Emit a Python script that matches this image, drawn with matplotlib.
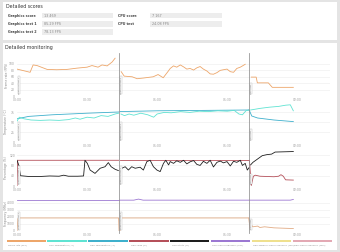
import matplotlib
matplotlib.use("Agg")
import matplotlib.pyplot as plt
import matplotlib.transforms as mtransforms
from matplotlib.patches import Rectangle
from matplotlib.lines import Line2D

# ===============================
# DATA
# ===============================

score_labels = ["Graphics score", "Graphics test 1", "Graphics test 2"]
score_values = ["13 469", "85.29 FPS", "78.13 FPS"]
cpu_labels = ["CPU score", "CPU test"]
cpu_values = ["7 167", "24.08 FPS"]

sections = ["Graphics test 1", "Graphics test 2", "CPU test"]
section_start = [0, 43.7, 99.4]

time_ticks = [0, 30, 60, 90, 120]
time_labels = ["00:00", "00:30", "01:00", "01:30", "02:00"]

# frame rate, one list per section
fps_t = [[0, 3.4, 5.6, 6.9, 8.6, 12.9, 17, 21.4, 25.7, 30, 32.1, 34.7, 36.4, 38.6, 40.7, 42],
         [44.6, 45.9, 49.3, 51.4, 54, 58.3, 60.4, 62.6, 64.7, 65.6, 67.0, 68.4, 69.9, 71.3, 72.7,
          74.1, 75.6, 77.0, 78.4, 79.8, 81.3, 82.7, 84.1, 85.6, 87.0, 88.4, 89.9, 91.3, 92.7,
          94.1, 95.6, 97.7],
         [100.3, 102.4, 102.9, 107.6, 109.3, 118.3]]
fps_v = [[84, 78, 74, 97, 95, 83, 82, 83, 87, 90, 95, 90, 97, 94, 106, 118],
         [76, 62, 60, 54, 56, 60, 67, 57, 77, 86, 94, 90, 97, 91, 84, 86, 81, 88, 92, 84, 78,
          69, 68, 73, 80, 82, 84, 76, 74, 86, 90, 99],
         [59, 59, 41, 41, 27, 27]]

# temperatures
cpu_temp_t = [[0, 1, 3, 6, 10, 14, 18, 22, 25, 27, 30, 33, 36, 39, 42, 43.5],
              [44.5, 46, 48, 50, 53, 56, 58.5, 60, 63, 66, 70, 74, 78, 82, 86, 90, 93, 95,
               96.5, 98, 99.2],
              [100, 104, 108, 112, 115, 117, 118.3]]
cpu_temp_v = [[52, 62, 58, 55, 54, 55, 54, 56, 60, 57, 62, 60, 66, 64, 70, 72],
              [70, 66, 70, 67, 72, 68, 62, 70, 74, 73, 76, 74, 77, 76, 78, 77, 79, 70, 68, 78, 80],
              [80, 84, 87, 89, 92, 93, 78]]
gpu_temp_t = [[0, 5, 15, 30, 43.5],
              [44, 60, 80, 99.2],
              [99.4, 100.5, 103, 110, 118.3]]
gpu_temp_v = [[58, 64, 68, 72, 75],
              [76, 78, 79, 80],
              [80, 65, 60, 55, 51]]

# loads
gpu_load_t = [[0, 0.3, 43.5], [44, 99.2], [99.5, 100.3, 101.2, 102, 104, 110, 112, 113, 114, 115, 118.3]]
gpu_load_v = [[0, 100, 100], [100, 100], [100, 2, 38, 42, 38, 36, 38, 44, 38, 24, 23]]
cpu_load_t = [[0, 0.8, 1.5, 5, 10, 14, 18, 20, 22, 26, 28.5, 29.1, 30.1, 31.3, 33.4, 35.6,
               37.7, 39.1, 40.3, 42, 43.4],
              [44.9, 46.3, 47.7, 49.1, 50.6, 52.7, 54.1, 55.6, 57, 58.4, 59.9, 61.3, 62.7, 63.7,
               64.9, 65.6, 67, 68.4, 69.9, 71.3, 72.7, 74.1, 75.6, 77, 78.4, 79.8, 81.3, 82.7,
               84.1, 85.6, 87, 88.4, 89.9, 91.3, 92.7, 94.1, 95.6, 96.5, 97.7, 98.6, 99.4],
              [100, 101, 103, 105, 107, 109, 110.5, 118.3]]
cpu_load_v = [[100, 80, 40, 37, 37, 39, 38, 42, 38, 38, 39, 100, 88, 62, 49, 69, 75, 91, 75, 65, 60],
              [69, 75, 62, 75, 69, 73, 62, 95, 100, 75, 62, 56, 88, 100, 82, 95, 88, 98, 92, 100,
               86, 94, 99, 84, 80, 96, 88, 100, 74, 92, 97, 90, 95, 78, 96, 92, 100, 80, 88, 62, 72],
              [82, 92, 105, 118, 122, 124, 132, 134]]

# clocks
cpu_clock_t = [[0, 43.5], [44, 50, 52, 54, 99.2], [99.5, 117, 118.3]]
cpu_clock_v = [[4400, 4400], [4400, 4400, 4550, 4400, 4400], [4400, 4400, 4500]]
gpu_clock_t = [[0, 0.4, 0.8, 43.5, 43.7], [44.1, 44.4, 99.0],
               [99.2, 99.8, 100.5, 101, 103, 104, 106, 110, 114, 118.3]]
gpu_clock_v = [[0, 1800, 1860, 1860, 0], [0, 1860, 1860],
               [1860, 200, 800, 600, 700, 500, 600, 450, 400, 350]]

legend_labels = ["Frame rate (FPS)", "CPU Temperature (°C)", "GPU Temperature (°C)", "GPU Load (%)",
                 "CPU Utility (%)", "CPU Clock Frequency (MHz)", "GPU Memory Clock Frequency (MHz)",
                 "GPU Clock Frequency (MHz)"]

# ===============================
# STYLE
# ===============================

c_fps = "#eda66a"
c_cpu_temp = "#5fe3d2"
c_gpu_temp = "#3fb0cc"
c_gpu_load = "#b5505a"
c_cpu_load = "#1e1e1e"
c_cpu_clock = "#9c78d2"
c_mem_clock = "#efe08e"
c_gpu_clock = "#e3a9b4"
c_gpu_clock_line = "#e2ab84"
legend_colors = [c_fps, c_cpu_temp, c_gpu_temp, c_gpu_load, c_cpu_load, c_cpu_clock, c_mem_clock, c_gpu_clock]

W, H = 340, 252


def fx(x):
    return x / W


def fy(y):
    return 1 - y / H


fig = plt.figure(figsize=(W / 100, H / 100), dpi=100, facecolor="#e4e4e4")

# white cards
fig.patches.append(Rectangle((fx(3), fy(40)), fx(334), 38 / H, transform=fig.transFigure,
                             facecolor="white", edgecolor="none", zorder=-10))
fig.patches.append(Rectangle((fx(3), fy(250)), fx(334), 207 / H, transform=fig.transFigure,
                             facecolor="white", edgecolor="none", zorder=-10))

fig.text(fx(6), fy(7), "Detailed scores", fontsize=3.4, color="#333", va="center")
fig.text(fx(5), fy(48), "Detailed monitoring", fontsize=3.4, color="#333", va="center")

rows_y = [15.7, 24, 32]
for i, (lab, val) in enumerate(zip(score_labels, score_values)):
    fig.text(fx(8), fy(rows_y[i]), lab, fontsize=2.4, color="#444", va="center", weight="bold")
    fig.patches.append(Rectangle((fx(42), fy(rows_y[i] + 2.6)), 71 / W, 5.2 / H,
                                 transform=fig.transFigure, facecolor="#ededed", edgecolor="none",
                                 zorder=-5))
    fig.text(fx(44), fy(rows_y[i]), val, fontsize=2.4, color="#888", va="center")
for i, (lab, val) in enumerate(zip(cpu_labels, cpu_values)):
    fig.text(fx(118), fy(rows_y[i]), lab, fontsize=2.4, color="#444", va="center", weight="bold")
    fig.patches.append(Rectangle((fx(150), fy(rows_y[i] + 2.6)), 72 / W, 5.2 / H,
                                 transform=fig.transFigure, facecolor="#ededed", edgecolor="none",
                                 zorder=-5))
    fig.text(fx(152), fy(rows_y[i]), val, fontsize=2.4, color="#888", va="center")

# ===============================
# PANELS
# ===============================

panels = [
    (55, 96, "Frame rate (FPS)", (0, 128), [0, 20, 40, 60, 80, 100]),
    (102, 142, "Temperature (°C)", (0, 100), [0, 25, 50, 75]),
    (150, 186, "Percentage (%)", (0, 140), [0, 40, 80, 120]),
    (197, 231, "Frequency (MHz)", (0, 4850), [0, 1000, 2000, 3000, 4000]),
]

axes = []
for top, bot, ylab, ylim, yticks in panels:
    ax = fig.add_axes([fx(17), fy(bot), fx(330) - fx(17), (bot - top) / H])
    ax.set_xlim(0, 134)
    ax.set_ylim(*ylim)
    ax.set_yticks(yticks)
    ax.set_xticks(time_ticks)
    ax.set_xticklabels(time_labels)
    ax.tick_params(length=0, labelsize=2.2, colors="#999", pad=1.5)
    ax.grid(axis="y", color="#ececec", lw=0.4)
    for s in ax.spines.values():
        s.set_visible(False)
    ax.set_facecolor("none")
    fig.text(fx(6.5), fy((top + bot) / 2), ylab, rotation=90, fontsize=2.2, color="#888",
             ha="center", va="center")
    trans = mtransforms.blended_transform_factory(ax.transData, ax.transAxes)
    for name, t0 in zip(sections, section_start):
        ax.text(t0 + 0.6, 0.06, name, transform=trans, rotation=90, fontsize=1.6, color="#777",
                ha="left", va="bottom", zorder=5,
                bbox=dict(boxstyle="square,pad=0.25", fc="white", ec="#bbb", lw=0.3))
    axes.append(ax)

ax1, ax2, ax3, ax4 = axes

for k in range(3):
    ax1.plot(fps_t[k], fps_v[k], color=c_fps, lw=0.6)
    ax2.plot(gpu_temp_t[k], gpu_temp_v[k], color=c_gpu_temp, lw=0.6)
    ax2.plot(cpu_temp_t[k], cpu_temp_v[k], color=c_cpu_temp, lw=0.6)
    ax3.plot(gpu_load_t[k], gpu_load_v[k], color=c_gpu_load, lw=0.6)
    ax3.plot(cpu_load_t[k], cpu_load_v[k], color=c_cpu_load, lw=0.6)
    ax4.plot(cpu_clock_t[k], cpu_clock_v[k], color=c_cpu_clock, lw=0.6)
    ax4.plot(gpu_clock_t[k], gpu_clock_v[k], color=c_gpu_clock_line, lw=0.6)

# section dividers spanning all panels
div_trans = mtransforms.blended_transform_factory(ax1.transData, fig.transFigure)
for t0 in section_start[1:]:
    fig.add_artist(Line2D([t0, t0], [fy(233), fy(53)], transform=div_trans,
                          color="#8f8f8f", lw=0.55))

# legend bars
n = len(legend_labels)
bar_w = (333 - 6) / n
for i, (lab, col) in enumerate(zip(legend_labels, legend_colors)):
    x0 = 6 + i * bar_w
    fig.patches.append(Rectangle((fx(x0 + 0.5), fy(242)), (bar_w - 1.5) / W, 2 / H,
                                 transform=fig.transFigure, facecolor=col, edgecolor="none"))
    fig.text(fx(x0 + 2), fy(245.5), lab, fontsize=1.6, color="#888", va="center")

fig.savefig("out.png", dpi=100, facecolor=fig.get_facecolor())
